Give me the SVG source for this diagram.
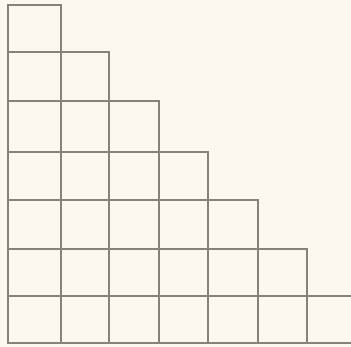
<svg xmlns="http://www.w3.org/2000/svg" width="351" height="347" viewBox="0 0 351 347">
<style>.g{fill:none;stroke:#85817b;stroke-width:2;stroke-linecap:square}</style>
<rect width="351" height="347" fill="#fcf8ef"/>
<g id="grid" class="g">
<path d="M8 5H61M8 52H109M8 101H159M8 152H208M8 200H258M8 249H307M8 296H351M8 343H351"/>
<path d="M8 5V343M61 5V343M109 52V343M159 101V343M208 152V343M258 200V343M307 249V343"/>
</g>
</svg>
